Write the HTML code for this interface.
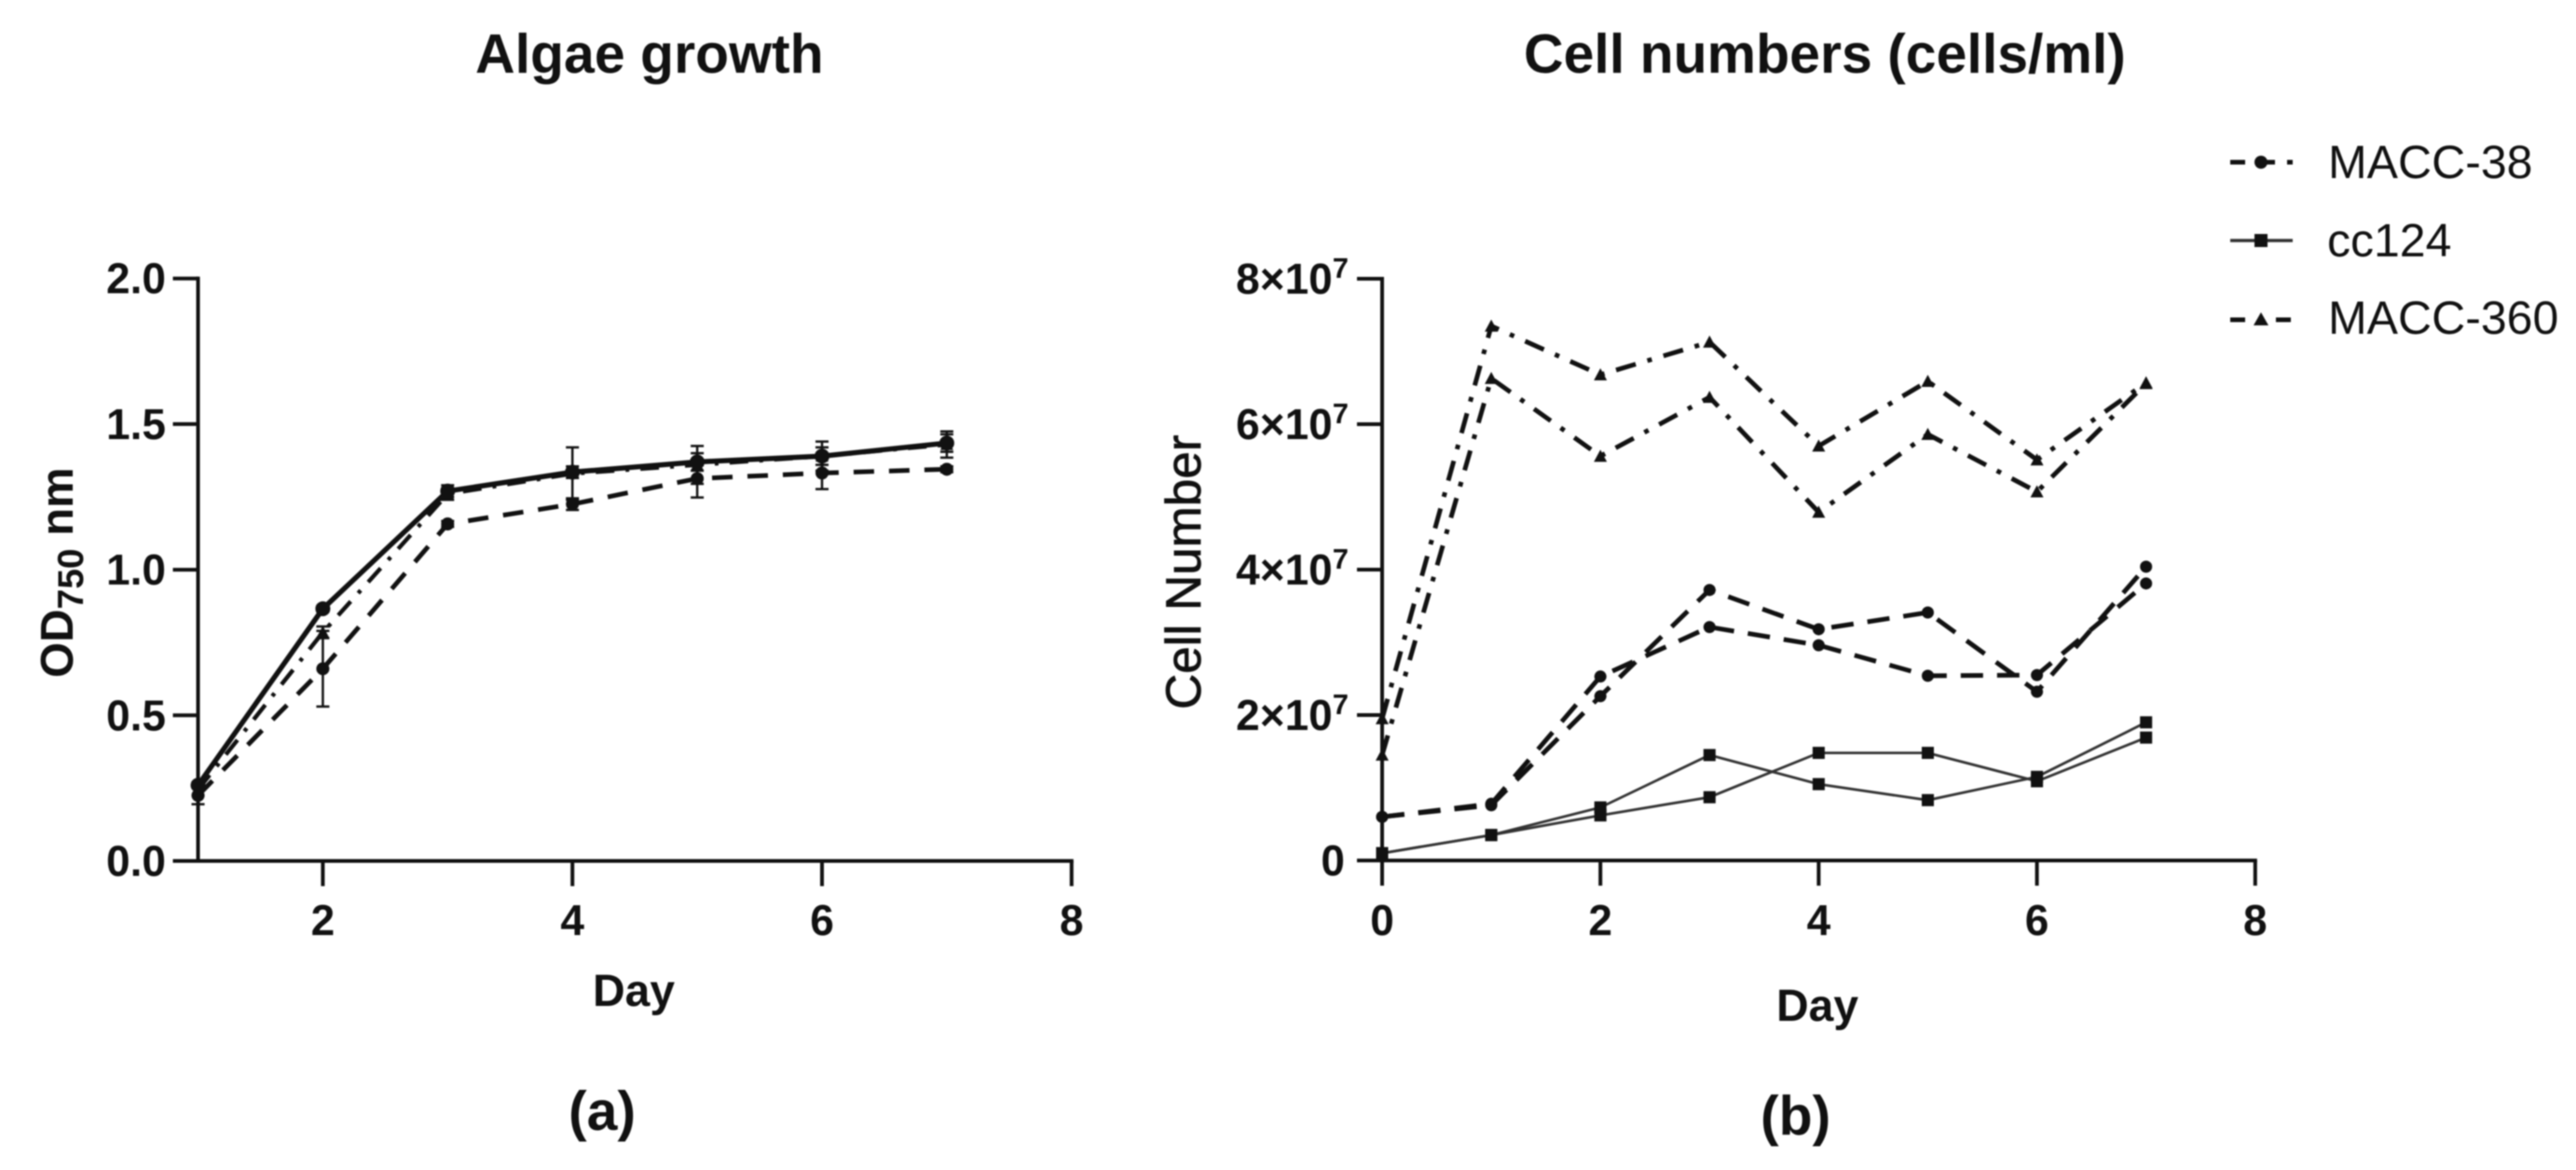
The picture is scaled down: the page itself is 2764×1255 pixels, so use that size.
<!DOCTYPE html>
<html>
<head>
<meta charset="utf-8">
<title>Algae growth and cell numbers</title>
<style>
html,body{margin:0;padding:0;background:#fff;width:2764px;height:1255px;overflow:hidden}
svg{display:block;filter:blur(0.9px)}
text{font-family:"Liberation Sans",sans-serif;fill:#111}
.b{font-weight:bold}
</style>
</head>
<body>
<svg id="figure" xmlns="http://www.w3.org/2000/svg" width="2764" height="1255" viewBox="0 0 2764 1255">
  <rect width="2764" height="1255" fill="#fff"/>
  <text class="b" x="510" y="78" font-size="59">Algae growth</text>
  <text class="b" x="1635" y="78" font-size="59">Cell numbers (cells/ml)</text>
  <text class="b" transform="translate(78,727) rotate(-90)" font-size="49">OD<tspan font-size="39" dy="11">750</tspan><tspan dy="-11"> nm</tspan></text>
  <text transform="translate(1288,761) rotate(-90)" font-size="53" stroke="#111" stroke-width="0.8">Cell Number</text>
  <text class="b" x="636" y="1079" font-size="48">Day</text>
  <text class="b" x="1906" y="1095" font-size="48">Day</text>
  <text class="b" x="610" y="1212" font-size="59">(a)</text>
  <text class="b" x="1889" y="1217" font-size="59">(b)</text>

  <g id="chart-a"></g>
  <g id="chart-b"></g>

  <g>
    <g>
      <line x1="2393" y1="174" x2="2460" y2="174" stroke="#111" stroke-width="5" stroke-dasharray="16 12 20 13 7"/>
      <circle cx="2426" cy="174" r="7" fill="#111"/>
      <text x="2498" y="191" font-size="50">MACC-38</text>
    </g>
    <g>
      <line x1="2393" y1="258" x2="2460" y2="258" stroke="#333" stroke-width="3.5"/>
      <rect x="2419" y="251" width="14" height="14" fill="#111"/>
      <text x="2497" y="275" font-size="50">cc124</text>
    </g>
    <g>
      <line x1="2393" y1="343" x2="2458" y2="343" stroke="#111" stroke-width="5" stroke-dasharray="16 50"/>
      <line x1="2442" y1="343" x2="2458" y2="343" stroke="#111" stroke-width="5"/>
      <path d="M2426 335 L2434 349 L2418 349 Z" fill="#111"/>
      <text x="2498" y="358" font-size="50">MACC-360</text>
    </g>
  </g>
</svg>
<script>
// ---- Chart A data ----
const aDays = [1, 2, 3, 4, 5, 6, 7];
const aCc124 = [0.26, 0.866, 1.27, 1.335, 1.37, 1.39, 1.435];
const aCc124Err = [0.01, 0.01, 0.02, 0.02, 0.03, 0.03, 0.03];
const aMacc360 = [0.245, 0.785, 1.26, 1.33, 1.36, 1.39, 1.43];
const aMacc360Err = [0.02, 0.02, 0.02, 0.09, 0.065, 0.05, 0.045];
const aMacc38 = [0.225, 0.66, 1.157, 1.225, 1.313, 1.332, 1.345];
const aMacc38Err = [0.03, 0.13, 0.01, 0.02, 0.065, 0.055, 0.01];
const aYTicks = [0, 0.5, 1, 1.5, 2];
const aYTickLabels = ["0.0", "0.5", "1.0", "1.5", "2.0"];
const aXTicks = [2, 4, 6, 8];
const aXTickLabels = ["2", "4", "6", "8"];

// ---- Chart B data (cells/ml, in units of 10^7) ----
const bDays = [0, 1, 2, 3, 4, 5, 6, 7];
const bMacc38A = [0.60, 0.76, 2.26, 3.72, 3.18, 3.41, 2.32, 4.04];
const bMacc38B = [0.60, 0.78, 2.53, 3.21, 2.96, 2.54, 2.55, 3.81];
const bCc124A = [0.10, 0.35, 0.73, 1.45, 1.05, 0.83, 1.15, 1.90];
const bCc124B = [0.10, 0.35, 0.62, 0.87, 1.48, 1.48, 1.09, 1.69];
const bMacc360A = [1.95, 7.35, 6.68, 7.13, 5.70, 6.59, 5.51, 6.57];
const bMacc360B = [1.45, 6.63, 5.56, 6.37, 4.79, 5.86, 5.07, 6.56];
const bYTicks = [0, 2, 4, 6, 8];
const bYTickLabels = ["0", "2×10", "4×10", "6×10", "8×10"];
const bXTicks = [0, 2, 4, 6, 8];
const bXTickLabels = ["0", "2", "4", "6", "8"];

const NS = "http://www.w3.org/2000/svg";
const INK = "#111";

function make(parent, tag, attrs) {
  const el = document.createElementNS(NS, tag);
  for (const k in attrs) el.setAttribute(k, attrs[k]);
  parent.appendChild(el);
  return el;
}

// axis functions
const ax = d => 212.5 + (d - 1) * 133.9;
const ay = v => 923.5 - v * 312.4;
const bx = d => 1483 + d * 117.1;
const by = v => 923 - v * 78;

function polyPoints(xs, ys, fx, fy) {
  return xs.map((x, i) => fx(x).toFixed(1) + "," + fy(ys[i]).toFixed(1)).join(" ");
}

function marker(parent, kind, cx, cy, size) {
  let m;
  if (kind === "circle") {
    m = make(parent, "circle", { cx: cx, cy: cy, r: size, fill: INK });
  } else if (kind === "square") {
    m = make(parent, "rect", { x: cx - size, y: cy - size, width: size * 2, height: size * 2, fill: INK });
  } else {
    m = make(parent, "path", { d: "M" + cx + " " + (cy - size - 1) + " L" + (cx + size + 1) + " " + (cy + size) + " L" + (cx - size - 1) + " " + (cy + size) + " Z", fill: INK });
  }
  
  
}

function drawSeries(parent, name, xs, ys, fx, fy, style, kind, size) {
  const g = make(parent, "g", {});
  
  
  const line = make(g, "polyline", Object.assign({ points: polyPoints(xs, ys, fx, fy), fill: "none", stroke: INK, "stroke-linejoin": "miter" }, style));
  
  
  xs.forEach((x, i) => marker(g, kind, fx(x), fy(ys[i]), size));
  return g;
}

function drawErrors(group, xs, ys, errs, fx, fy) {
  xs.forEach((x, i) => {
    const px = fx(x), top = fy(ys[i] + errs[i]), bot = fy(ys[i] - errs[i]);
    const bar = make(group, "path", {
      d: "M" + px + " " + top + " V" + bot + " M" + (px - 7) + " " + top + " H" + (px + 7) + " M" + (px - 7) + " " + bot + " H" + (px + 7),
      fill: "none", stroke: INK, "stroke-width": 2.5
    });
    
    
  });
}

function tickText(parent, x, y, anchor, str, sup) {
  const t = make(parent, "text", { x: x, y: y, "text-anchor": anchor, class: "b", "font-size": 46 });
  
  
  t.textContent = str;
  if (sup) {
    const s = make(t, "tspan", { dy: -17, "font-size": 31 });
    s.textContent = sup;
  }
  return t;
}

function drawAxes(parent, x0, yTop, yBottom, xEnd, xTicks, xLabels, fx, yTicks, yLabels, fy, labelRight, isB) {
  const axisY = make(parent, "line", { x1: x0, y1: yTop - 2, x2: x0, y2: yBottom + 2, stroke: INK, "stroke-width": 4 });
  
  
  const axisX = make(parent, "line", { x1: x0 - 27, y1: yBottom, x2: xEnd + 2, y2: yBottom, stroke: INK, "stroke-width": 4 });
  
  
  yTicks.forEach((v, i) => {
    const py = fy(v);
    const tick = make(parent, "line", { x1: x0 - 27, y1: py, x2: x0, y2: py, stroke: INK, "stroke-width": 4 });
    
    
    const lab = yLabels[i];
    if (isB && v !== 0) tickText(parent, labelRight, py + 16, "end", lab, "7");
    else tickText(parent, isB ? labelRight - 4 : labelRight, py + 16, "end", lab);
  });
  xTicks.forEach((d, i) => {
    const px = fx(d);
    const tick = make(parent, "line", { x1: px, y1: yBottom, x2: px, y2: yBottom + 27, stroke: INK, "stroke-width": 4 });
    
    
    tickText(parent, px, 1003, "middle", xLabels[i]);
  });
}

// ---- Chart A ----
const chartA = document.getElementById("chart-a");
drawAxes(chartA, 212.5, ay(2), ay(0), ax(8), aXTicks, aXTickLabels, ax, aYTicks, aYTickLabels, ay, 178, false);
const errA = make(chartA, "g", {});


drawErrors(errA, aDays, aMacc38, aMacc38Err, ax, ay);
drawErrors(errA, aDays, aMacc360, aMacc360Err, ax, ay);
drawErrors(errA, aDays, aCc124, aCc124Err, ax, ay);
drawSeries(chartA, "series-macc-38", aDays, aMacc38, ax, ay, { "stroke-width": 5, "stroke-dasharray": "22 16" }, "circle", 7);
drawSeries(chartA, "series-macc-360", aDays, aMacc360, ax, ay, { "stroke-width": 4.5, "stroke-dasharray": "20 12 4 12" }, "triangle", 6);
drawSeries(chartA, "series-cc124", aDays, aCc124, ax, ay, { "stroke-width": 5.5 }, "circle", 8);

// ---- Chart B ----
const chartB = document.getElementById("chart-b");
drawAxes(chartB, 1483, by(8), by(0), bx(8), bXTicks, bXTickLabels, bx, bYTicks, bYTickLabels, by, 1447, true);
const dash38 = { "stroke-width": 5, "stroke-dasharray": "24 15" };
const dash360 = { "stroke-width": 5, "stroke-dasharray": "22 13 5 13" };
const solid124 = { "stroke-width": 2.8, stroke: "#333" };
drawSeries(chartB, "series-macc-38-replicate-1", bDays, bMacc38A, bx, by, dash38, "circle", 6.5);
drawSeries(chartB, "series-macc-38-replicate-2", bDays, bMacc38B, bx, by, dash38, "circle", 6.5);
drawSeries(chartB, "series-cc124-replicate-1", bDays, bCc124A, bx, by, solid124, "square", 6.5);
drawSeries(chartB, "series-cc124-replicate-2", bDays, bCc124B, bx, by, solid124, "square", 6.5);
drawSeries(chartB, "series-macc-360-replicate-1", bDays, bMacc360A, bx, by, dash360, "triangle", 6);
drawSeries(chartB, "series-macc-360-replicate-2", bDays, bMacc360B, bx, by, dash360, "triangle", 6);
</script>
</body>
</html>
